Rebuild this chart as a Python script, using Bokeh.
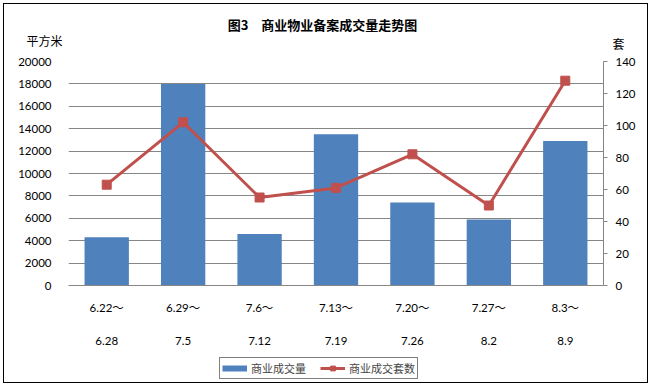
from bokeh.plotting import figure
from bokeh.layouts import column
from bokeh.models import (FactorRange, Range1d, LinearAxis, CategoricalAxis, Legend,
                          LegendItem, FixedTicker, Label, CustomJSTickFormatter)
from bokeh.embed import file_html
from bokeh.resources import INLINE

# ---- data ----
periods_start = ["6.22～", "6.29～", "7.6～", "7.13～", "7.20～", "7.27～", "8.3～"]
periods_end = ["6.28", "7.5", "7.12", "7.19", "7.26", "8.2", "8.9"]
area = [4300, 18000, 4600, 13500, 7400, 5900, 12900]      # 商业成交量 (平方米)
units = [63, 102, 55, 61, 82, 50, 128]                     # 商业成交套数 (套)
left_ticks = list(range(0, 20001, 2000))
right_ticks = list(range(0, 141, 20))

title_text = "图3　商业物业备案成交量走势图"
left_unit = "平方米"
right_unit = "套"
legend_labels = ["商业成交量", "商业成交套数"]

# ---- layout (pixels) ----
W = 651
FL, FR = 68, 603
H_TOP, H_MID, H_BOT = 52, 298, 36
NUM = "Lato, 'Noto Sans CJK SC'"
CJK = "'Noto Sans CJK SC'"
GRID = "#868686"


def strip(height):
    f = figure(width=W, height=height, x_range=Range1d(FL, FR), y_range=Range1d(height, 0),
               x_axis_location=None, y_axis_location=None,
               min_border_left=FL, min_border_right=W - FR,
               min_border_top=0, min_border_bottom=0,
               output_backend="svg", toolbar_location=None)
    f.outline_line_color = None
    f.grid.visible = False
    f.background_fill_alpha = 0
    f.border_fill_alpha = 0
    return f


def caption_axis(text, ypos, standoff):
    return LinearAxis(ticker=FixedTicker(ticks=[ypos]),
                      formatter=CustomJSTickFormatter(args=dict(t=text), code="return t"),
                      axis_line_color=None, major_tick_line_color=None,
                      minor_tick_line_color=None, major_tick_in=0, major_tick_out=0,
                      major_label_standoff=standoff, major_label_text_font=CJK,
                      major_label_text_font_size="12px", major_label_text_color="black")


# ---- top strip: title and unit captions ----
top = strip(H_TOP)
top.add_layout(Label(x=322, y=24, text=title_text, text_align="center",
                     text_baseline="middle", text_font=CJK, text_font_size="13px",
                     text_font_style="bold", text_color="black"))
top.add_layout(caption_axis(left_unit, 40, 6), "left")
top.add_layout(caption_axis(right_unit, 44, 9), "right")

# ---- main chart ----
p = figure(width=W, height=H_MID, x_range=FactorRange(*periods_start),
           y_range=Range1d(0, 20000), output_backend="svg", toolbar_location=None,
           min_border_left=FL, min_border_right=W - FR, min_border_top=9,
           min_border_bottom=65)
p.extra_y_ranges = {"right": Range1d(0, 140)}
p.extra_x_ranges = {"end": FactorRange(*periods_end)}
p.outline_line_color = None
p.background_fill_alpha = 0
p.border_fill_alpha = 0

p.xaxis.axis_line_color = GRID
p.xaxis.major_tick_line_color = None
p.xaxis.minor_tick_line_color = None
p.xaxis.major_tick_out = 0
p.xaxis.major_label_standoff = 15
p.xaxis.major_label_text_font = NUM
p.xaxis.major_label_text_font_size = "11.5px"
p.xaxis.major_label_text_color = "black"

xaxis2 = CategoricalAxis(x_range_name="end", axis_line_color=None,
                         major_tick_line_color=None, minor_tick_line_color=None,
                         major_tick_out=0, major_label_standoff=20,
                         major_label_text_font=NUM, major_label_text_font_size="11.5px",
                         major_label_text_color="black")
p.add_layout(xaxis2, "below")

p.yaxis.ticker = FixedTicker(ticks=left_ticks)
p.yaxis.axis_line_color = None
p.yaxis.major_tick_line_color = None
p.yaxis.minor_tick_line_color = None
p.yaxis.major_label_standoff = 11
p.yaxis.major_label_text_font = NUM
p.yaxis.major_label_text_font_size = "11.5px"
p.yaxis.major_label_text_color = "black"

raxis = LinearAxis(y_range_name="right", ticker=FixedTicker(ticks=right_ticks),
                   axis_line_color=GRID, major_tick_line_color=GRID,
                   major_tick_in=0, major_tick_out=4, minor_tick_line_color=None,
                   major_label_standoff=8, major_label_text_font=NUM,
                   major_label_text_font_size="11.5px", major_label_text_color="black")
p.add_layout(raxis, "right")

p.xgrid.grid_line_color = None
p.ygrid.ticker = FixedTicker(ticks=left_ticks)
p.ygrid.grid_line_color = GRID
p.ygrid.grid_line_width = 1

p.vbar(x=periods_start, top=area, width=0.58, fill_color="#4F81BD", line_color=None)
p.line(x=periods_start, y=units, y_range_name="right", line_color="#C0504D", line_width=3)
p.scatter(x=periods_start, y=units, y_range_name="right", marker="square", size=9,
          fill_color="#C0504D", line_color="#C0504D")

# ---- bottom strip: legend ----
bot = strip(H_BOT)
nan = float("nan")
k_bar = bot.line(x=[nan], y=[nan], line_color="#4F81BD", line_width=6)
k_line = bot.line(x=[nan], y=[nan], line_color="#C0504D", line_width=3)
k_mark = bot.scatter(x=[nan], y=[nan], marker="square", size=9,
                     fill_color="#C0504D", line_color="#C0504D")
legend = Legend(items=[LegendItem(label=legend_labels[0], renderers=[k_bar]),
                       LegendItem(label=legend_labels[1], renderers=[k_line, k_mark])],
                location=(219 - FL, 7), orientation="horizontal",
                border_line_color="black", border_line_width=1,
                background_fill_color="white", label_text_font=CJK,
                label_text_font_size="11px", glyph_width=25, glyph_height=12,
                label_height=12, padding=2, spacing=14, label_standoff=4, margin=0)
bot.add_layout(legend)

page = column(top, p, bot, spacing=0)
page.styles = {"outline": "1px solid black", "outline-offset": "-4px"}

open("out.html", "w").write(file_html(page, INLINE))
